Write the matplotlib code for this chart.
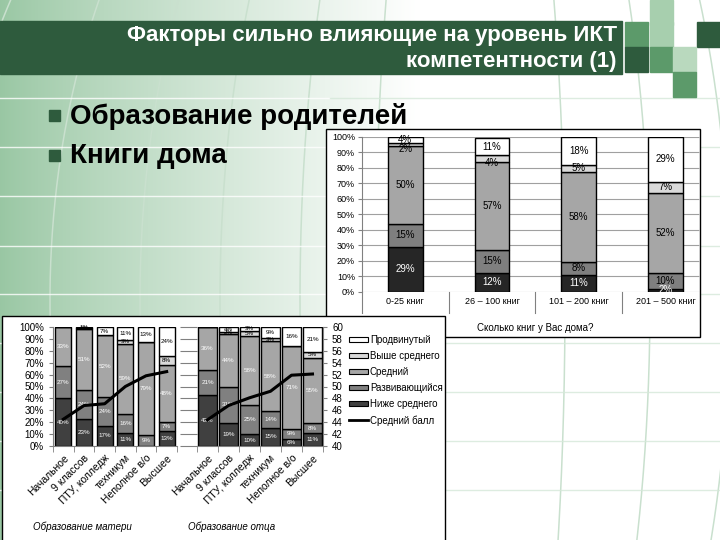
import numpy as np
import matplotlib.pyplot as plt
from matplotlib.patches import Rectangle, Patch
from matplotlib.lines import Line2D

# --- data ---
levels = ["Ниже среднего", "Развивающийся", "Средний", "Выше среднего", "Продвинутый"]

books_cats = ["0-25 книг", "26 – 100 книг", "101 – 200 книг", "201 – 500 книг"]
books_low = [29, 12, 11, 2]
books_dev = [15, 15, 8, 10]
books_mid = [50, 57, 58, 52]
books_high = [2, 4, 5, 7]
books_adv = [4, 11, 18, 29]

edu_cats = ["Начальное", "9 классов", "ПТУ, колледж", "техникум", "Неполное в/о", "Высшее"]
mother_low = [40, 23, 17, 11, 0, 13]
mother_dev = [27, 24, 24, 16, 9, 7]
mother_mid = [33, 51, 52, 59, 79, 48]
mother_high = [0, 1, 0, 3, 0, 8]
mother_adv = [0, 1, 7, 11, 13, 24]
mother_score = [44.5, 46.8, 47.1, 50.0, 51.8, 52.5]

father_low = [43, 19, 10, 15, 6, 11]
father_dev = [21, 31, 25, 14, 9, 8]
father_mid = [36, 44, 58, 58, 71, 55]
father_high = [0, 2, 5, 3, 0, 5]
father_adv = [0, 4, 3, 9, 16, 21]
father_score = [44.4, 46.8, 48.1, 49.2, 51.9, 52.1]

W, H = 720, 540
fig = plt.figure(figsize=(7.2, 5.4), dpi=100)
plt.rcParams['font.family'] = ['Liberation Sans', 'DejaVu Sans']


def px_axes(x0, y0, x1, y1, **kw):
    return fig.add_axes([x0 / W, 1 - y1 / H, (x1 - x0) / W, (y1 - y0) / H], **kw)


# --- slide background ---
bg = px_axes(0, 0, W, H)
bg.set_xlim(0, W)
bg.set_ylim(H, 0)
bg.axis("off")
xs = np.linspace(0, 1, 400)
t = np.clip(xs * W / 420, 0, 1) ** 0.85
green = np.array([0.60, 0.78, 0.64])
grad = green[None, :] * (1 - t[:, None]) + np.ones(3)[None, :] * t[:, None]
bg.imshow(grad[None, :, :], extent=(0, W, H, 0), aspect="auto", zorder=0)
# globe-like meridians and parallels
yy = np.linspace(-60, 600, 300)
for a in [-520, -420, -330, -250, -170, -95, 95, 180, 260, 340]:
    xx = 470 + a * np.sqrt(np.clip(1 - ((yy - 300) / 640) ** 2, 0, 1))
    bg.plot(xx, yy, color="#c9e0ce", lw=1.1, zorder=1)
for y0 in [98, 147, 196, 246, 294, 343, 392, 441, 490]:
    bg.plot([0, 330], [y0, y0], color="white", lw=1.0, alpha=0.8, zorder=1)
    bg.plot([330, W], [y0, y0], color="#d5e8d9", lw=1.0, alpha=0.8, zorder=1)

# title band and mosaic
bg.add_patch(Rectangle((0, 21), 622, 53, color="#2e5b3d", zorder=2))
squares = [(650, 0, "#a7cfae"), (625, 22, "#5c9a6a"), (650, 22, "#a7cfae"),
           (697, 22, "#2e5b3d"), (625, 47, "#2e5b3d"), (650, 47, "#5c9a6a"),
           (673, 47, "#b9d9be"), (673, 72, "#5c9a6a")]
for sx, sy, sc in squares:
    bg.add_patch(Rectangle((sx, sy), 23, 25, color=sc, zorder=2))
bg.text(617, 36, "Факторы сильно влияющие на уровень ИКТ", color="white",
        fontsize=16, fontweight="bold", ha="right", va="center", zorder=3)
bg.text(617, 61, "компетентности (1)", color="white",
        fontsize=16, fontweight="bold", ha="right", va="center", zorder=3)

# chart frames
bg.add_patch(Rectangle((326, 129), 374, 208, facecolor="white", edgecolor="black", lw=1, zorder=3))
bg.add_patch(Rectangle((2, 316), 443, 240, facecolor="white", edgecolor="black", lw=1, zorder=5))

# bullets
for by, btxt in [(116, "Образование родителей"), (156, "Книги дома")]:
    bg.add_patch(Rectangle((49, by - 6), 11, 11, color="#2e5b3d", zorder=4))
    bg.text(70, by, btxt, fontsize=20, fontweight="bold", color="black",
            va="center", ha="left", zorder=4)

# --- top right chart: books at home ---
top_cols = ["#262626", "#7f7f7f", "#a6a6a6", "#d9d9d9", "white"]
top_txt = ["white", "black", "black", "black", "black"]
ax1 = px_axes(362, 136.7, 708.8, 291.7)
ax1.set_xlim(-0.5, 3.5)
ax1.set_ylim(0, 100)
xr = -0.5 + (699 - 362) / 86.7
ax1.hlines(np.arange(0, 101, 10), -0.5, xr, color="#a0a0a0", lw=0.8, zorder=0)
bottom = np.zeros(4)
for k, (vals, col, tc) in enumerate(zip([books_low, books_dev, books_mid, books_high, books_adv], top_cols, top_txt)):
    v = np.array(vals, dtype=float)
    ax1.bar(range(4), v, 0.4, bottom=bottom, color=col, edgecolor="black", lw=1, zorder=2)
    for i in range(4):
        ly = bottom[i] + v[i] / 2
        if k == 3 and v[i] <= 4:
            ly -= 3
        ax1.text(i, ly, f"{vals[i]}%", ha="center", va="center",
                 fontsize=7, color=tc, zorder=3)
    bottom += v
for s in ["top", "right", "bottom"]:
    ax1.spines[s].set_visible(False)
ax1.spines["left"].set_color("#808080")
ax1.set_yticks(np.arange(0, 101, 10))
ax1.set_yticklabels([f"{v}%" for v in range(0, 101, 10)], fontsize=6.5)
ax1.tick_params(axis="y", length=3, color="#808080", pad=2)
ax1.set_xticks([])
for xb in [-0.5, 0.5, 1.5, 2.5]:
    ax1.plot([xb, xb], [0, -14], color="#808080", lw=0.8, clip_on=False)
for i, c in enumerate(books_cats):
    ax1.text(i, -6.6, c, ha="center", va="center", fontsize=6.5)
ax1.text(1.5, -23.5, "Сколько книг у Вас дома?", ha="center", va="center", fontsize=7)
ax1.patch.set_alpha(0)

# --- bottom left chart: parents education ---
bot_cols = ["#404040", "#808080", "#a6a6a6", "#d9d9d9", "white"]


def edu_chart(ax, series, width):
    vals = np.array(series, dtype=float)
    tot = vals.sum(axis=0)
    bottom = np.zeros(vals.shape[1])
    for k in range(vals.shape[0]):
        h = vals[k] / tot * 100
        ax.bar(range(6), h, width, bottom=bottom, color=bot_cols[k], edgecolor="black", lw=1, zorder=2)
        for i in range(6):
            if vals[k, i] > 0:
                ax.text(i, bottom[i] + h[i] / 2, f"{int(vals[k, i])}%", ha="center", va="center",
                        fontsize=4.5, color="white" if k < 3 else "black", zorder=3)
        bottom += h
    ax.set_xlim(-0.5, 5.5)
    ax.set_ylim(0, 100)
    ax.set_yticks(np.arange(0, 101, 10))
    ax.set_xticks(range(6))
    ax.set_xticklabels(edu_cats, rotation=45, ha="right", rotation_mode="anchor", fontsize=7.5)
    ax.set_xticks(np.arange(-0.5, 6, 1), minor=True)
    ax.tick_params(axis="x", which="major", length=0, pad=5)
    ax.tick_params(axis="x", which="minor", length=4, color="#808080")
    ax.spines["top"].set_visible(False)
    ax.spines["right"].set_visible(False)
    ax.spines["bottom"].set_color("#808080")
    ax.spines["left"].set_color("#808080")
    ax.patch.set_alpha(0)


ax2 = px_axes(53, 327, 177, 446)
edu_chart(ax2, [mother_low, mother_dev, mother_mid, mother_high, mother_adv], 0.78)
ax2.set_yticklabels([f"{v}%" for v in range(0, 101, 10)], fontsize=7)
ax2.tick_params(axis="y", length=3, color="#808080")
ax2t = ax2.twinx()
ax2t.set_ylim(40, 60)
ax2t.plot(range(6), mother_score, color="black", lw=2.2, zorder=4)
ax2t.axis("off")

ax3 = px_axes(197, 327, 323, 446)
edu_chart(ax3, [father_low, father_dev, father_mid, father_high, father_adv], 0.93)
ax3.set_yticklabels([])
ax3.spines["left"].set_visible(False)
ax3.tick_params(axis="y", length=12, color="#808080")
ax3t = ax3.twinx()
ax3t.set_ylim(40, 60)
ax3t.set_yticks(np.arange(40, 61, 2))
ax3t.tick_params(axis="y", labelsize=7, length=3, color="#808080")
for s in ["top", "left", "bottom"]:
    ax3t.spines[s].set_visible(False)
ax3t.spines["right"].set_color("#808080")
ax3t.plot(range(6), father_score, color="black", lw=2.2, zorder=4)

bg.text(82, 527, "Образование матери", fontsize=7, style="italic", ha="center", va="center", zorder=6)
bg.text(232, 527, "Образование отца", fontsize=7, style="italic", ha="center", va="center", zorder=6)

handles = [Patch(facecolor=bot_cols[k], edgecolor="black", lw=0.8) for k in range(4, -1, -1)]
handles.append(Line2D([0], [0], color="black", lw=2))
labels = levels[::-1] + ["Средний балл"]
fig.legend(handles, labels, loc="upper left", bbox_to_anchor=(349 / W, 1 - 335 / H), frameon=False,
           fontsize=7, handlelength=2.0, handleheight=0.5, labelspacing=0.62, handletextpad=0.15,
           borderpad=0, borderaxespad=0)

fig.savefig("out.png", dpi=100)
